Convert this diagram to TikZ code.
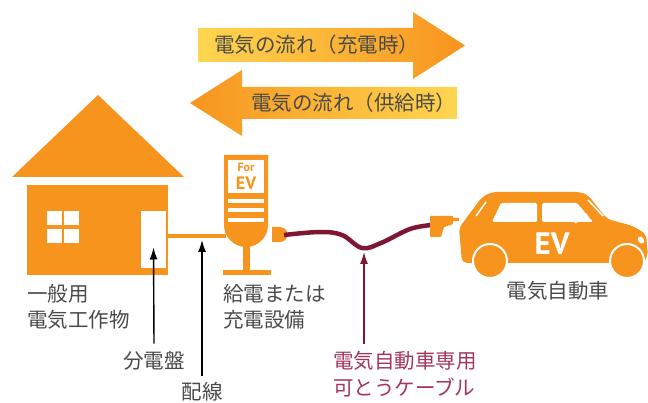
\documentclass[tikz,border=0pt]{standalone}
\usepackage{fontspec}
\setmainfont{Noto Sans CJK JP}
\newfontfamily\evfont{PT Sans}
\usepackage{tikz}
\usetikzlibrary{arrows.meta, positioning, calc}
\definecolor{evorange}{HTML}{F7941E}
\definecolor{evyellow}{HTML}{FFD650}
\definecolor{evmaroon}{HTML}{7E1733}
\definecolor{evwine}{HTML}{A3365A}
\definecolor{evgray}{HTML}{4A4A4A}
\tikzstyle{jptext} = [inner sep=0pt, text=evgray, align=left, font=\fontsize{20.5}{27}\selectfont]
\tikzstyle{callout} = [line width=1.4pt, -{Latex[length=12pt,width=8pt]}]
\tikzstyle{solidpart} = [fill=evorange]
\tikzstyle{hole} = [fill=white]

\begin{document}
\begin{tikzpicture}[x=1pt, y=1pt]
    \useasboundingbox (0,0) rectangle (648,-403);

    % Power flow arrows
    \shade[left color=evyellow, right color=evorange] (198,-28) -- (413,-28) -- (413,-12) -- (465,-45.5) -- (413,-79) -- (413,-62) -- (198,-62) -- cycle;
    \shade[left color=evorange, right color=evyellow] (457,-87) -- (242,-87) -- (242,-70) -- (190,-103) -- (242,-136) -- (242,-119) -- (457,-119) -- cycle;
    \node (chargeflow) [jptext, anchor=west] at (214,-45) {電気の流れ（充電時）};
    \node (supplyflow) [jptext, anchor=west] at (251,-103) {電気の流れ（供給時）};

    % House
    \fill[solidpart] (12,-177) -- (98,-95) -- (184,-177) -- cycle;
    \fill[solidpart] (27,-185) rectangle (168,-275);
    \foreach \x in {47,64}
        \foreach \y in {211,229}
            \fill[hole] (\x,-\y) rectangle ++(15,-14);
    \node (board) [hole, minimum width=25pt, minimum height=57pt, inner sep=0pt] at (153.5,-239.5) {};

    % Wiring
    \fill[solidpart] (board.east |- 0,-234) rectangle (226,-238);
    \coordinate (wiretip) at (202,-240);

    % Charger
    \fill[solidpart] (224,-155) -- (268,-155) -- (268,-225) arc[start angle=0, end angle=-180, radius=22] -- cycle;
    \fill[hole] (228,-160) rectangle (264,-193);
    \foreach \y in {199,208,218}
        \fill[hole] (228,-\y) rectangle (264,-\y-4);
    \fill[solidpart] (243,-245) rectangle (250,-271);
    \fill[solidpart] (223,-270) rectangle (271,-275);
    \node (forlabel) [text=evorange, inner sep=0pt, anchor=base, font=\evfont\bfseries\fontsize{12}{12}\selectfont] at (246,-171.5) {For};
    \node (evlabel) [text=evorange, inner sep=0pt, anchor=base, font=\evfont\bfseries\fontsize{18}{18}\selectfont] at (246,-189.5) {EV};

    % Plug and cable
    \fill[solidpart] (272,-227) -- (280,-227) arc[start angle=90, end angle=-90, radius=7.5] -- (272,-242) -- cycle;
    \draw[evmaroon, line width=4.5pt] plot[smooth, tension=0.6] coordinates {(284,-235) (320,-232) (342,-235) (362,-248) (381,-243) (410,-229) (432,-225)};
    \fill[solidpart] (430,-216) -- (453,-216) -- (453,-218) -- (459,-218) -- (459,-221) -- (453,-221) -- (453,-224) -- (444,-227) -- (441,-237) -- (430,-237) -- cycle;
    \coordinate (cabletip) at (364,-252);

    % Car
    \fill[solidpart, rounded corners=5pt] (462,-263) -- (459,-228) -- (482,-197) -- (492,-192) -- (580,-192) -- (588,-195) -- (607,-219) -- (633,-226) -- (646,-234) -- (648,-256) -- (643,-263) -- cycle;
    \fill[hole, rounded corners=1.5pt] (492,-222) -- (501,-203) -- (537,-203) -- (537,-222) -- cycle;
    \fill[hole, rounded corners=1.5pt] (542,-222) -- (542,-203) -- (577,-203) -- (593,-222) -- cycle;
    \draw[white, line width=1.5pt] (476,-216) -- (486,-202);
    \draw[white, line width=1.5pt] (588,-200) -- (603,-216);
    \draw[white, line width=1.5pt] (575,-223) -- (587,-214);
    \fill[hole, rotate around={30:(641,-240)}] (641,-240) ellipse (2.8 and 4);
    \foreach \x in {490,627}
        \filldraw[fill=evorange, draw=white, line width=2pt] (\x,-261) circle (17);
    \node (evmark) [text=white, inner sep=0pt, font=\evfont\bfseries\fontsize{31}{31}\selectfont] at (552,-244) {EV};

    % Labels (two-line nodes sit on their last baseline)
    \node (building) [jptext, anchor=base west] at (27,-328) {一般用\\電気工作物};
    \node (charger) [jptext, anchor=base west] at (223,-328) {給電または\\充電設備};
    \node (car) [jptext, anchor=base] at (558,-299) {電気自動車};
    \node (boardlabel) [jptext, anchor=base] at (154,-368) {分電盤};
    \node (wirelabel) [jptext, anchor=base] at (202,-399) {配線};
    \node (cablelabel) [jptext, text=evwine, anchor=base west] at (333,-395) {電気自動車専用\\可とうケーブル};

    % Callouts
    \draw [callout] ([yshift=7pt]boardlabel.north) -- ([yshift=-8pt]board.center);
    \draw [callout] ([yshift=6pt]wirelabel.north) -- (wiretip);
    \draw [callout, evmaroon] ([yshift=7pt]cablelabel.north -| cabletip) -- (cabletip);
\end{tikzpicture}
\end{document}
